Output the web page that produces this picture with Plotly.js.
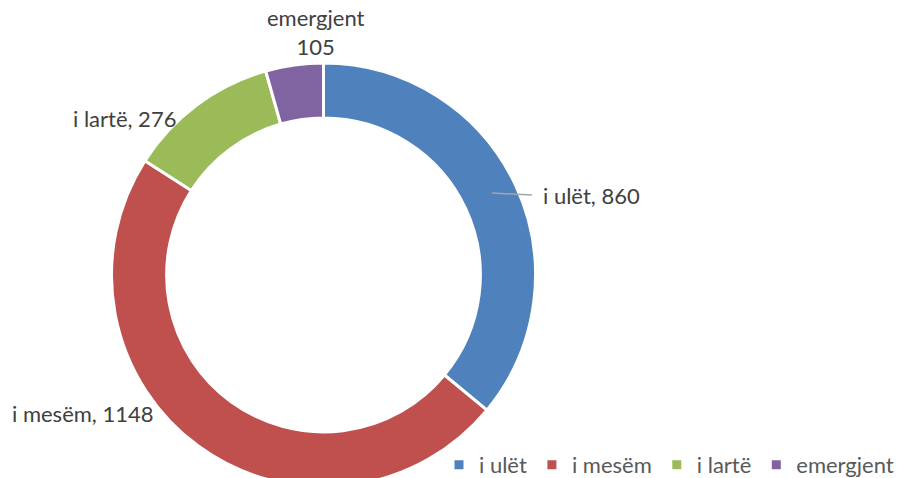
<!DOCTYPE html>
<html><head><meta charset="utf-8">
<script src="https://cdn.plot.ly/plotly-3.0.1.min.js"></script>
<style>html,body{margin:0;padding:0;overflow:hidden;background:#fff}#c{width:900px;height:500px}</style>
</head><body><div id="c"></div>
<script>
const categories = ["i ulët", "i mesëm", "i lartë", "emergjent"];
const values = [860, 1148, 276, 105];
const colors = ["#4F81BD", "#C0504D", "#9BBB59", "#8064A2"];

const W = 900, H = 500, mt = 63, mb = 13;
const ph = H - mt - mb;
const px = x => x / W;
const py = y => (H - mb - y) / ph;
const font = "Lato, 'Open Sans', sans-serif";

const labelPos = [
  {x: 541, y: 196, xanchor: "left", sep: ", "},
  {x: 156, y: 413, xanchor: "right", sep: ", "},
  {x: 178, y: 119, xanchor: "right", sep: ", "},
  {x: 316, y: 32, xanchor: "center", sep: "<br>"}
];
const annotations = categories.map((c, i) => ({
  xref: "paper", yref: "paper", x: px(labelPos[i].x), y: py(labelPos[i].y),
  xanchor: labelPos[i].xanchor, yanchor: "middle", showarrow: false,
  text: c + labelPos[i].sep + values[i], align: "center",
  font: {family: font, size: 22, color: "#404040"}
}));

const data = [{
  type: "pie", labels: categories, values: values, sort: false, direction: "clockwise",
  rotation: 0, hole: 0.74, textinfo: "none", hoverinfo: "none",
  marker: {colors: colors, line: {color: "#ffffff", width: 3}},
  domain: {x: [(323.5 - 212) / W, (323.5 + 212) / W], y: [0, 1]}
}];
const layout = {
  width: W, height: H, margin: {l: 0, r: 0, t: mt, b: mb},
  paper_bgcolor: "#fff", plot_bgcolor: "#fff",
  showlegend: true,
  legend: {orientation: "h", x: px(439), xanchor: "left", y: py(465), yanchor: "middle",
    bgcolor: "rgba(0,0,0,0)",
    font: {family: font, size: 22, color: "#595959"}, itemclick: false, traceorder: "normal"},
  annotations: annotations,
  shapes: [{type: "line", xref: "paper", yref: "paper", x0: px(492), y0: py(193), x1: px(532), y1: py(195),
    line: {color: "#A6A6A6", width: 1.5}}]
};
Plotly.newPlot("c", data, layout, {staticPlot: true});
</script></body></html>
